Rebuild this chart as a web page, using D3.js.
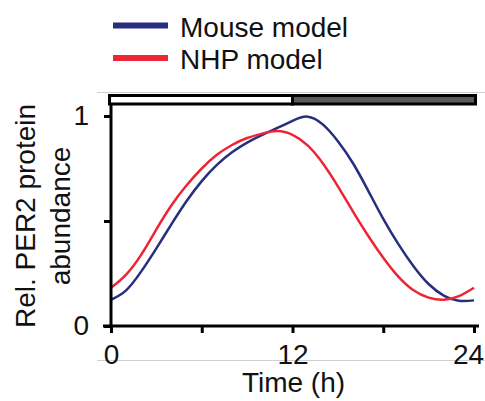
<!DOCTYPE html>
<html>
<head>
<meta charset="utf-8">
<script src="https://cdn.jsdelivr.net/npm/d3@7"></script>
<style>
  body { margin: 0; background: #fff; }
  text { font-family: Arial, "Liberation Sans", sans-serif; fill: #111; }
</style>
</head>
<body>
<div id="chart"></div>
<script>
// Hourly values
const hours = d3.range(0, 25);
const mouseModel = [0.125, 0.17, 0.26, 0.37, 0.485, 0.595, 0.69, 0.767, 0.827, 0.873, 0.91, 0.943, 0.977,
  0.997, 0.96, 0.88, 0.775, 0.645, 0.51, 0.39, 0.285, 0.2, 0.145, 0.12, 0.122];
const nhpModel = [0.182, 0.245, 0.34, 0.46, 0.575, 0.67, 0.75, 0.815, 0.862, 0.895, 0.916, 0.928, 0.91,
  0.86, 0.775, 0.665, 0.545, 0.43, 0.325, 0.235, 0.17, 0.135, 0.125, 0.142, 0.182];
const seriesNames = ['Mouse model', 'NHP model'];
const seriesColors = ['#262f7e', '#ee2535'];
const xTicks = [0, 6, 12, 18, 24];
const xTickLabels = ['0', '', '12', '', '24'];
const yTicks = [0, 0.5, 1];
const yTickLabels = ['0', '', '1'];
const lightDark = [[0, 12, '#fff'], [12, 24, '#5a5a5a']];

const width = 485, height = 401;
const svg = d3.select('#chart').append('svg')
  .attr('width', width)
  .attr('height', height);

const x = d3.scaleLinear().domain([0, 24]).range([111, 474]);
const y = d3.scaleLinear().domain([0, 1]).range([326, 116]);

// faint crop lines from the source figure
svg.append('line').attr('x1', 97).attr('x2', width).attr('y1', 92.5).attr('y2', 92.5)
  .attr('stroke', '#d0d0d0').attr('stroke-width', 1);
svg.append('line').attr('x1', 97).attr('x2', width).attr('y1', 360.5).attr('y2', 360.5)
  .attr('stroke', '#d0d0d0').attr('stroke-width', 1);

// light/dark bar
svg.selectAll('.ld')
  .data(lightDark)
  .join('rect')
  .attr('class', 'ld')
  .attr('x', d => x(d[0]) - (d[0] === 0 ? 1.5 : 0))
  .attr('width', d => x(d[1]) - x(d[0]) + 1.5)
  .attr('y', 95.5)
  .attr('height', 8.5)
  .attr('fill', d => d[2])
  .attr('stroke', '#000')
  .attr('stroke-width', 3);

// curves
const line = d3.line()
  .x((d, i) => x(hours[i]))
  .y(d => y(d))
  .curve(d3.curveNatural);

[mouseModel, nhpModel].forEach((vals, i) => {
  svg.append('path')
    .datum(vals)
    .attr('fill', 'none')
    .attr('stroke', seriesColors[i])
    .attr('stroke-width', 2.5)
    .attr('d', line);
});

// y axis
const yAxis = g => g
  .attr('transform', `translate(${x(0)},0)`)
  .call(d3.axisLeft(y).tickValues(yTicks).tickSize(7).tickPadding(15)
    .tickFormat((d, i) => yTickLabels[i]))
  .call(g => g.select('.domain').remove())
  .call(g => g.selectAll('.tick line').attr('stroke', '#000').attr('stroke-width', 3))
  .call(g => g.selectAll('text').attr('font-size', 28).attr('fill', '#111')
    .attr('font-family', 'Arial, "Liberation Sans", sans-serif'));
svg.append('g').call(yAxis);

svg.append('line')
  .attr('x1', x(0)).attr('x2', x(0))
  .attr('y1', 104).attr('y2', y(0) + 1.5)
  .attr('stroke', '#000').attr('stroke-width', 3);

// x axis
const xAxis = g => g
  .attr('transform', `translate(0,${y(0)})`)
  .call(d3.axisBottom(x).tickValues(xTicks).tickSize(7).tickPadding(11)
    .tickFormat((d, i) => xTickLabels[i]))
  .call(g => g.select('.domain').remove())
  .call(g => g.selectAll('.tick line').attr('stroke', '#000').attr('stroke-width', 3))
  .call(g => g.selectAll('text').attr('font-size', 28).attr('fill', '#111')
    .attr('font-family', 'Arial, "Liberation Sans", sans-serif'))
  .call(g => g.selectAll('.tick:last-of-type text').attr('dx', -6));
svg.append('g').call(xAxis);

svg.append('line')
  .attr('x1', 103).attr('x2', 479)
  .attr('y1', y(0)).attr('y2', y(0))
  .attr('stroke', '#000').attr('stroke-width', 3);

// axis titles
svg.append('text')
  .attr('x', (x(0) + x(24)) / 2 + 1)
  .attr('y', 392)
  .attr('text-anchor', 'middle')
  .attr('font-size', 28)
  .text('Time (h)');

const yTitle = svg.append('text')
  .attr('transform', 'translate(35,216) rotate(-90)')
  .attr('text-anchor', 'middle')
  .attr('font-size', 28);
yTitle.append('tspan').attr('x', 0).attr('y', 0).text('Rel. PER2 protein');
yTitle.append('tspan').attr('x', 0).attr('y', 35).text('abundance');

// legend
const legend = svg.selectAll('.legend')
  .data(seriesNames)
  .join('g')
  .attr('class', 'legend')
  .attr('transform', (d, i) => `translate(113,${25.5 + i * 32.5})`);

legend.append('line')
  .attr('x1', 0).attr('x2', 55)
  .attr('stroke', (d, i) => seriesColors[i])
  .attr('stroke-width', 6);

legend.append('text')
  .attr('x', 67)
  .attr('y', 11)
  .attr('font-size', 28)
  .text(d => d);
</script>
</body>
</html>
